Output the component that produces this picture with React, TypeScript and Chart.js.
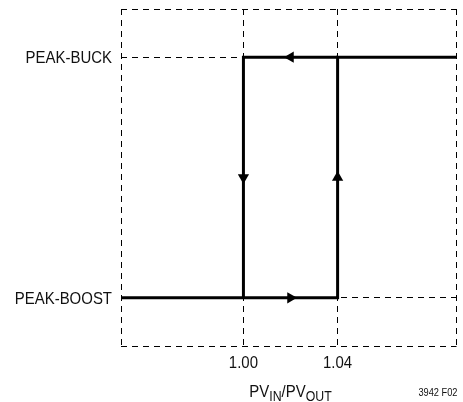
import React, { useEffect, useRef } from "react";
import { Chart, registerables } from "chart.js";

Chart.register(...registerables);

// ---- data ----
const xRange = [0.948, 1.0905];
const yRange = [-0.2, 1.2];
const xTickValues = [1.0, 1.04];
const xTickLabels = ["1.00", "1.04"];
const modeValues = [0, 1];
const modeLabels = ["PEAK-BOOST", "PEAK-BUCK"];
// boost -> buck transition path (rising PVin/PVout)
const risingX = [0.948, 1.04, 1.04, 1.0905];
const risingY = [0, 0, 1, 1];
// buck -> boost transition path (falling PVin/PVout)
const fallingX = [1.04, 1.0, 1.0];
const fallingY = [1, 1, 0];
// direction arrows
const arrowX = [1.02, 1.0, 1.04, 1.02];
const arrowY = [1, 0.5, 0.5, 0];
const arrowRot = [270, 180, 0, 90];
const xTitleParts = [
  ["PV", false],
  ["IN", true],
  ["/PV", false],
  ["OUT", true],
] as [string, boolean][];
const figureCode = "3942 F02";

const FONT = "'Liberation Sans', Arial, sans-serif";
const SQUEEZE = 0.88;

function condensedText(ctx: any, text: string, x: number, y: number, font: string, align: "left" | "right" | "center") {
  ctx.save();
  ctx.font = font;
  ctx.textAlign = align;
  ctx.translate(x, y);
  ctx.scale(SQUEEZE, 1);
  ctx.fillText(text, 0, 0);
  ctx.restore();
}

const textPlugin = {
  id: "condensedLabels",
  afterDraw(chart: any) {
    const ctx = chart.ctx;
    const ca = chart.chartArea;
    const xs = chart.scales.x;
    const ys = chart.scales.y;
    ctx.save();
    ctx.fillStyle = "#111";
    const f17 = `17px ${FONT}`;
    // y tick labels
    ctx.textBaseline = "middle";
    modeValues.forEach((v, i) => {
      condensedText(ctx, modeLabels[i], ca.left - 9, ys.getPixelForValue(v) + 1, f17, "right");
    });
    // x tick labels
    ctx.textBaseline = "top";
    xTickValues.forEach((v, i) => {
      condensedText(ctx, xTickLabels[i], xs.getPixelForValue(v), ca.bottom + 9, f17, "center");
    });
    // x title with subscripts
    ctx.textBaseline = "alphabetic";
    const mainF = f17;
    const subF = `14px ${FONT}`;
    const widths: number[] = [];
    let total = 0;
    for (const [t, sub] of xTitleParts) {
      ctx.font = sub ? subF : mainF;
      const w = ctx.measureText(t).width * SQUEEZE;
      widths.push(w);
      total += w;
    }
    const baseline = 397;
    let x = xs.getPixelForValue(1.02) - total / 2;
    xTitleParts.forEach(([t, sub], i) => {
      condensedText(ctx, t, x, sub ? baseline + 4 : baseline, sub ? subF : mainF, "left");
      x += widths[i];
    });
    // figure code
    condensedText(ctx, figureCode, ca.right + 1, 396, `10.5px ${FONT}`, "right");
    ctx.restore();
  },
};

export default function App() {
  const ref = useRef<HTMLCanvasElement | null>(null);
  useEffect(() => {
    if (!ref.current) return;
    const lineStyle = {
      borderColor: "#000",
      borderWidth: 3,
      pointRadius: 0,
      fill: false,
      tension: 0,
      borderJoinStyle: "miter" as const,
      borderCapStyle: "butt" as const,
      showLine: true,
    };
    const chart = new Chart(ref.current, {
      type: "scatter",
      data: {
        datasets: [
          {
            ...lineStyle,
            label: "rising",
            data: risingX.map((x, i) => ({ x, y: risingY[i] })),
          },
          {
            ...lineStyle,
            label: "falling",
            data: fallingX.map((x, i) => ({ x, y: fallingY[i] })),
          },
          {
            label: "arrows",
            data: arrowX.map((x, i) => ({ x, y: arrowY[i] })),
            showLine: false,
            pointStyle: "triangle",
            pointRadius: 6.5,
            pointRotation: arrowRot,
            backgroundColor: "#000",
            borderColor: "#000",
            borderWidth: 0,
          } as any,
        ],
      },
      options: {
        animation: false,
        responsive: true,
        maintainAspectRatio: false,
        layout: { padding: { top: 9, right: 2, left: 0, bottom: 0 } },
        plugins: { legend: { display: false }, tooltip: { enabled: false } },
        scales: {
          x: {
            type: "linear",
            min: xRange[0],
            max: xRange[1],
            afterBuildTicks: (s: any) => {
              s.ticks = [xRange[0], ...xTickValues, xRange[1]].map((v) => ({ value: v }));
            },
            afterFit: (s: any) => {
              s.height = 56;
            },
            ticks: { display: false },
            grid: { color: "#000", lineWidth: 1, drawTicks: false },
            border: { display: false, dash: [6, 5] },
          },
          y: {
            type: "linear",
            min: yRange[0],
            max: yRange[1],
            afterBuildTicks: (s: any) => {
              s.ticks = [yRange[0], ...modeValues, yRange[1]].map((v) => ({ value: v }));
            },
            afterFit: (s: any) => {
              s.width = 121;
            },
            ticks: { display: false },
            grid: { color: "#000", lineWidth: 1, drawTicks: false },
            border: { display: false, dash: [6, 5] },
          },
        },
      },
      plugins: [textPlugin],
    });
    return () => chart.destroy();
  }, []);
  return (
    <div style={{ position: "absolute", left: 0, top: 0, width: 463, height: 402, background: "#fff" }}>
      <canvas ref={ref} />
    </div>
  );
}
